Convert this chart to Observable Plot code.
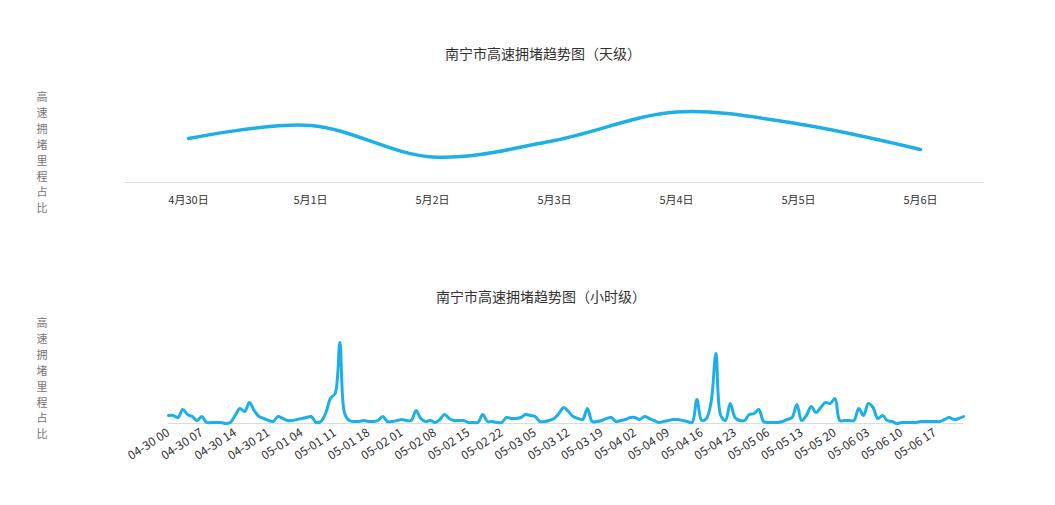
<!DOCTYPE html>
<html>
<head>
<meta charset="utf-8">
<script src="https://cdn.jsdelivr.net/npm/d3@7"></script>
<script src="https://cdn.jsdelivr.net/npm/@observablehq/plot@0.6"></script>
<style>
  html, body { margin: 0; padding: 0; background: #fff; }
  #wrap { position: relative; width: 1055px; height: 505px; overflow: hidden; font-family: "Noto Sans CJK SC", "Noto Sans", sans-serif; }
  .title { position: absolute; font-size: 14px; color: #333; transform: translate(-50%, -50%); white-space: nowrap; }
  .ylab { position: absolute; width: 14px; font-size: 11px; line-height: 15.9px; color: #777; text-align: center; transform: translateX(-50%); }
  .chart { position: absolute; left: 0; }
</style>
</head>
<body>
<div id="wrap">
  <div class="title" style="left:543px; top:53px;">南宁市高速拥堵趋势图（天级）</div>
  <div class="ylab" style="left:42px; top:89px;">高<br>速<br>拥<br>堵<br>里<br>程<br>占<br>比</div>
  <div class="chart" id="top" style="top:0px;"></div>
  <div class="title" style="left:541px; top:296px;">南宁市高速拥堵趋势图（小时级）</div>
  <div class="ylab" style="left:42px; top:315px;">高<br>速<br>拥<br>堵<br>里<br>程<br>占<br>比</div>
  <div class="chart" id="bottom" style="top:250px;"></div>
</div>
<script>
// Daily congestion share
const days = ["4月30日", "5月1日", "5月2日", "5月3日", "5月4日", "5月5日", "5月6日"];
const dailyShare = [4.4, 5.7, 2.55, 4.2, 7.05, 5.85, 3.3];

// Hourly congestion share, 04-30 00 .. 05-06 23 (168 hours, estimated)
const hourlyShare = [
  0.8,0.8,0.6,1.4,0.9,0.7,0.3,0.7,0.1,0.1,0.1,0.1,0.0,0.1,0.8,1.5,1.2,2.1,1.3,0.7,0.5,0.3,0.2,0.7,
  0.5,0.3,0.3,0.4,0.5,0.6,0.7,0.1,0.2,1.0,2.5,3.0,8.1,1.0,0.3,0.2,0.2,0.3,0.2,0.2,0.3,0.7,0.2,0.2,
  0.3,0.4,0.3,0.3,1.3,0.5,0.2,0.3,0.1,0.4,0.9,0.5,0.3,0.3,0.3,0.1,0.1,0.1,0.9,0.2,0.2,0.1,0.1,0.6,
  0.5,0.5,0.6,0.9,0.8,0.7,0.2,0.2,0.3,0.5,1.0,1.6,1.2,0.7,0.5,0.4,1.5,0.2,0.2,0.3,0.5,0.6,0.2,0.3,
  0.4,0.6,0.6,0.4,0.7,0.5,0.3,0.1,0.2,0.3,0.4,0.4,0.3,0.2,0.1,2.4,0.3,0.5,2.2,7.0,0.8,0.3,2.0,0.6,
  0.3,0.3,0.9,1.0,1.4,0.2,0.1,0.1,0.1,0.2,0.4,0.6,1.9,0.3,0.8,1.7,1.1,1.6,2.1,2.0,2.5,0.3,0.3,0.3,
  0.3,1.5,0.8,2.0,1.6,0.5,0.8,0.3,0.2,0.0,0.1,0.1,0.1,0.1,0.2,0.2,0.2,0.2,0.2,0.4,0.6,0.4,0.5,0.7
];

// Hourly axis tick labels (every 7 hours)
const hourTickLabels = [
  "04-30 00","04-30 07","04-30 14","04-30 21","05-01 04","05-01 11","05-01 18","05-02 01",
  "05-02 08","05-02 15","05-02 22","05-03 05","05-03 12","05-03 19","05-04 02","05-04 09",
  "05-04 16","05-04 23","05-05 06","05-05 13","05-05 20","05-06 03","05-06 10","05-06 17"
];
const hourTickStep = 7;

const lineColor = "#1db0e6";
const fontFamily = "'Noto Sans CJK SC', 'Noto Sans', sans-serif";

const dailyData = days.map((d, i) => ({day: d, v: dailyShare[i]}));
const hourlyData = hourlyShare.map((v, i) => ({h: i, v}));
const tickHours = hourTickLabels.map((_, i) => i * hourTickStep);

const topChart = Plot.plot({
  width: 1055,
  height: 250,
  marginTop: 82,
  marginBottom: 68,
  marginLeft: 125,
  marginRight: 72,
  style: {fontFamily, background: "transparent", overflow: "visible"},
  x: {type: "point", domain: days, padding: 0.5, label: null},
  y: {domain: [0, 10], axis: null},
  marks: [
    Plot.ruleY([0], {stroke: "#dcdcdc", strokeWidth: 1}),
    Plot.axisX({tickSize: 0, tickPadding: 14, fontSize: 11, fill: "#333", label: null}),
    Plot.line(dailyData, {x: "day", y: "v", curve: "catmull-rom", stroke: lineColor, strokeWidth: 3.5})
  ]
});
document.getElementById("top").appendChild(topChart);

const bottomChart = Plot.plot({
  width: 1055,
  height: 255,
  marginTop: 73,
  marginBottom: 82,
  marginLeft: 168,
  marginRight: 92,
  style: {fontFamily, background: "transparent", overflow: "visible"},
  x: {domain: [0, hourlyShare.length - 1], label: null},
  y: {domain: [0, 10], axis: null},
  marks: [
    Plot.ruleY([0], {stroke: "#dcdcdc", strokeWidth: 1}),
    Plot.axisX({
      ticks: tickHours,
      tickFormat: d => hourTickLabels[Math.round(d / hourTickStep)],
      tickRotate: -33,
      tickSize: 0,
      tickPadding: 8,
      fontSize: 12,
      fill: "#333",
      label: null
    }),
    Plot.line(hourlyData, {x: "h", y: "v", curve: "catmull-rom", stroke: lineColor, strokeWidth: 3})
  ]
});
document.getElementById("bottom").appendChild(bottomChart);
</script>
</body>
</html>
